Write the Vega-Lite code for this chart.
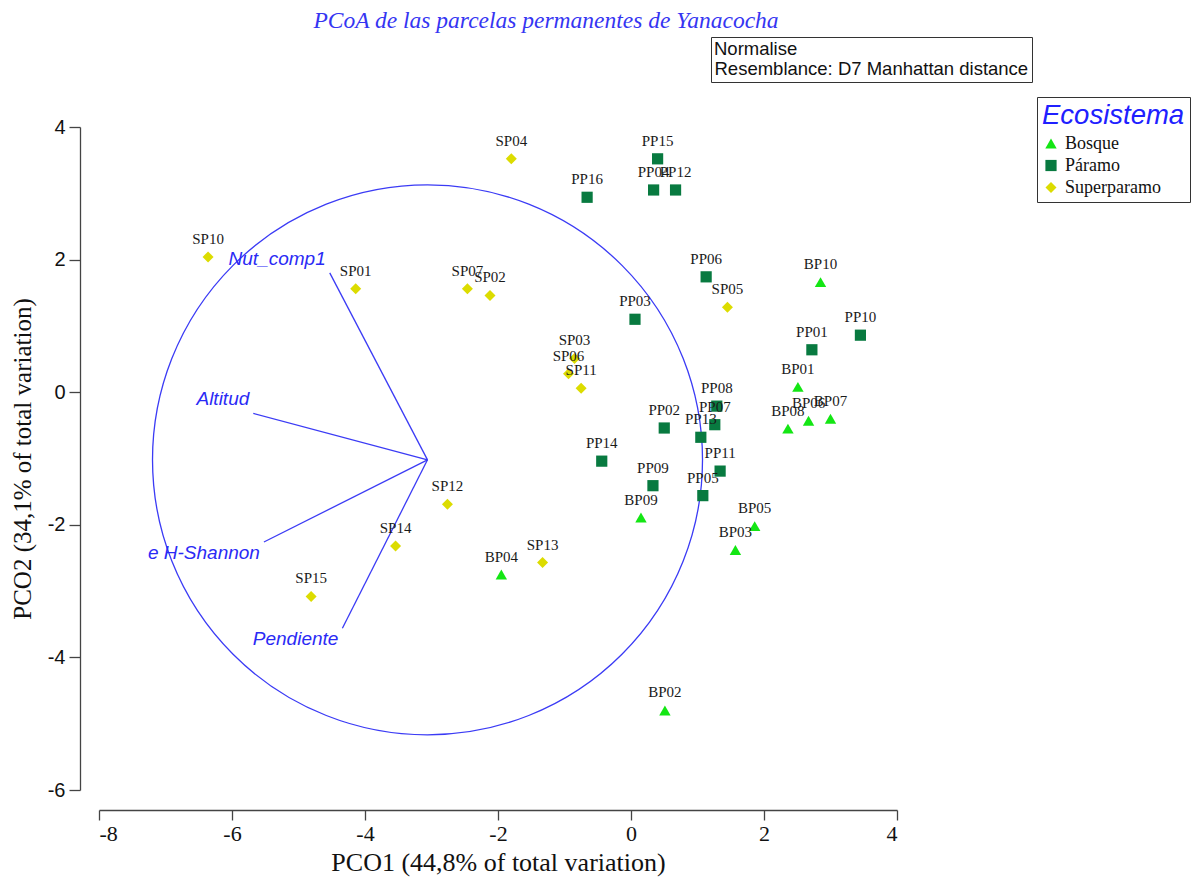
{
  "$schema": "https://vega.github.io/schema/vega-lite/v6.json",
  "width": 798,
  "height": 663,
  "autosize": {"type": "none"},
  "padding": {"left": 99, "top": 127, "right": 302, "bottom": 89},
  "background": "white",
  "title": {
    "text": "PCoA de las parcelas permanentes de Yanacocha",
    "font": "Liberation Serif",
    "fontStyle": "italic",
    "fontWeight": "normal",
    "fontSize": 23.5,
    "color": "#3535f2",
    "anchor": "middle",
    "frame": "group",
    "offset": 4,
    "dx": 48
  },
  "config": {
    "view": {"stroke": null},
    "axis": {"grid": false}
  },
  "datasets": {
    "parcelas": [
      {"id": "BP01", "eco": "Bosque", "x": 2.51, "y": 0.08},
      {"id": "BP02", "eco": "Bosque", "x": 0.51, "y": -4.8},
      {"id": "BP03", "eco": "Bosque", "x": 1.57, "y": -2.38},
      {"id": "BP04", "eco": "Bosque", "x": -1.95, "y": -2.75},
      {"id": "BP05", "eco": "Bosque", "x": 1.86, "y": -2.02},
      {"id": "BP06", "eco": "Bosque", "x": 2.67, "y": -0.43},
      {"id": "BP07", "eco": "Bosque", "x": 3.0, "y": -0.4},
      {"id": "BP08", "eco": "Bosque", "x": 2.36, "y": -0.55},
      {"id": "BP09", "eco": "Bosque", "x": 0.15, "y": -1.89},
      {"id": "BP10", "eco": "Bosque", "x": 2.85, "y": 1.66},
      {"id": "PP01", "eco": "Páramo", "x": 2.72, "y": 0.64},
      {"id": "PP02", "eco": "Páramo", "x": 0.5, "y": -0.54},
      {"id": "PP03", "eco": "Páramo", "x": 0.06, "y": 1.1},
      {"id": "PP04", "eco": "Páramo", "x": 0.34, "y": 3.05},
      {"id": "PP05", "eco": "Páramo", "x": 1.08, "y": -1.56},
      {"id": "PP06", "eco": "Páramo", "x": 1.13, "y": 1.74},
      {"id": "PP07", "eco": "Páramo", "x": 1.26, "y": -0.49},
      {"id": "PP08", "eco": "Páramo", "x": 1.29, "y": -0.21},
      {"id": "PP09", "eco": "Páramo", "x": 0.33, "y": -1.41},
      {"id": "PP10", "eco": "Páramo", "x": 3.45, "y": 0.86},
      {"id": "PP11", "eco": "Páramo", "x": 1.34, "y": -1.19},
      {"id": "PP12", "eco": "Páramo", "x": 0.67, "y": 3.05},
      {"id": "PP13", "eco": "Páramo", "x": 1.05, "y": -0.68},
      {"id": "PP14", "eco": "Páramo", "x": -0.44, "y": -1.04},
      {"id": "PP15", "eco": "Páramo", "x": 0.4, "y": 3.52},
      {"id": "PP16", "eco": "Páramo", "x": -0.66, "y": 2.94},
      {"id": "SP01", "eco": "Superparamo", "x": -4.14, "y": 1.56},
      {"id": "SP02", "eco": "Superparamo", "x": -2.12, "y": 1.46},
      {"id": "SP03", "eco": "Superparamo", "x": -0.85, "y": 0.51},
      {"id": "SP04", "eco": "Superparamo", "x": -1.8, "y": 3.52},
      {"id": "SP05", "eco": "Superparamo", "x": 1.45, "y": 1.28},
      {"id": "SP06", "eco": "Superparamo", "x": -0.94, "y": 0.28},
      {"id": "SP07", "eco": "Superparamo", "x": -2.46, "y": 1.56},
      {"id": "SP10", "eco": "Superparamo", "x": -6.36, "y": 2.04},
      {"id": "SP11", "eco": "Superparamo", "x": -0.75, "y": 0.06},
      {"id": "SP12", "eco": "Superparamo", "x": -2.76, "y": -1.69},
      {"id": "SP13", "eco": "Superparamo", "x": -1.33, "y": -2.57},
      {"id": "SP14", "eco": "Superparamo", "x": -3.54, "y": -2.32},
      {"id": "SP15", "eco": "Superparamo", "x": -4.81, "y": -3.08}
    ],
    "vectores": [
      {"variable": "Nut_comp1", "x0": -3.06, "y0": -1.02, "x1": -4.53, "y1": 1.8},
      {"variable": "Altitud", "x0": -3.06, "y0": -1.02, "x1": -5.68, "y1": -0.32},
      {"variable": "e H-Shannon", "x0": -3.06, "y0": -1.02, "x1": -5.52, "y1": -2.26},
      {"variable": "Pendiente", "x0": -3.06, "y0": -1.02, "x1": -4.34, "y1": -3.56}
    ],
    "circulo": [{"x": -3.06, "y": -1.02}],
    "nota": [{"x": -3.06, "y": -1.02, "nota": "Resemblance: D7 Manhattan distance"}]
  },
  "layer": [
    {
      "data": {"name": "circulo"},
      "mark": {"type": "point", "shape": "circle", "filled": false, "stroke": "#3b3bf5", "strokeWidth": 1.3, "size": 302500, "opacity": 1},
      "encoding": {
        "x": {
          "field": "x", "type": "quantitative",
          "scale": {"domain": [-8, 4], "nice": false, "zero": false},
          "axis": {
            "title": "PCO1 (44,8% of total variation)",
            "values": [-8, -6, -4, -2, 0, 2, 4],
            "labelExpr": "datum.value < 0 ? '-' + abs(datum.value) : '' + datum.value",
            "offset": 20,
            "domainColor": "#444", "tickColor": "#444", "tickSize": 10, "domainWidth": 1.3, "tickWidth": 1.3,
            "labelFont": "Liberation Serif", "labelFontSize": 22, "labelColor": "#111", "labelPadding": 3,
            "titleFont": "Liberation Serif", "titleFontSize": 26, "titleFontWeight": "normal", "titleColor": "#111", "titlePadding": 5
          }
        },
        "y": {
          "field": "y", "type": "quantitative",
          "scale": {"domain": [-6, 4], "nice": false, "zero": false},
          "axis": {
            "title": "PCO2 (34,1% of total variation)",
            "values": [-6, -4, -2, 0, 2, 4],
            "labelExpr": "datum.value < 0 ? '-' + abs(datum.value) : '' + datum.value",
            "offset": 19,
            "domainColor": "#444", "tickColor": "#444", "tickSize": 11, "domainWidth": 1.3, "tickWidth": 1.3,
            "labelFont": "Liberation Sans", "labelFontSize": 20, "labelColor": "#111", "labelPadding": 4,
            "titleFont": "Liberation Serif", "titleFontSize": 25, "titleFontWeight": "normal", "titleColor": "#111", "titlePadding": 12
          }
        }
      }
    },
    {
      "data": {"name": "vectores"},
      "mark": {"type": "rule", "color": "#3b3bf5", "strokeWidth": 1.3},
      "encoding": {
        "x": {"field": "x0", "type": "quantitative"},
        "y": {"field": "y0", "type": "quantitative"},
        "x2": {"field": "x1"},
        "y2": {"field": "y1"}
      }
    },
    {
      "data": {"name": "vectores"},
      "transform": [{"filter": "datum.y1 > datum.y0"}],
      "mark": {"type": "text", "align": "right", "baseline": "middle", "dx": -4, "dy": -14, "font": "Liberation Sans", "fontStyle": "italic", "fontSize": 19, "color": "#2a2af5"},
      "encoding": {
        "x": {"field": "x1", "type": "quantitative"},
        "y": {"field": "y1", "type": "quantitative"},
        "text": {"field": "variable"}
      }
    },
    {
      "data": {"name": "vectores"},
      "transform": [{"filter": "datum.y1 < datum.y0"}],
      "mark": {"type": "text", "align": "right", "baseline": "middle", "dx": -4, "dy": 11, "font": "Liberation Sans", "fontStyle": "italic", "fontSize": 19, "color": "#2a2af5"},
      "encoding": {
        "x": {"field": "x1", "type": "quantitative"},
        "y": {"field": "y1", "type": "quantitative"},
        "text": {"field": "variable"}
      }
    },
    {
      "data": {"name": "parcelas"},
      "mark": {"type": "point", "filled": true, "opacity": 1},
      "encoding": {
        "x": {"field": "x", "type": "quantitative"},
        "y": {"field": "y", "type": "quantitative"},
        "color": {
          "field": "eco", "type": "nominal",
          "scale": {"domain": ["Bosque", "Páramo", "Superparamo"], "range": ["#14e614", "#087a40", "#dcdc00"]},
          "legend": {
            "orient": "none", "legendX": 938, "legendY": -30,
            "title": "Ecosistema",
            "titleFont": "Liberation Sans", "titleFontStyle": "italic", "titleFontWeight": "normal", "titleFontSize": 27.5, "titleColor": "#2020ff", "titlePadding": 5,
            "labelFont": "Liberation Serif", "labelFontSize": 18, "labelColor": "#111", "labelOffset": 5,
            "symbolSize": 160, "rowPadding": 4,
            "strokeColor": "#333", "fillColor": "white", "padding": 5
          }
        },
        "shape": {
          "field": "eco", "type": "nominal",
          "scale": {"domain": ["Bosque", "Páramo", "Superparamo"], "range": ["triangle-up", "square", "diamond"]}
        },
        "size": {
          "field": "eco", "type": "nominal",
          "scale": {"domain": ["Bosque", "Páramo", "Superparamo"], "range": [130, 121, 160]},
          "legend": null
        }
      }
    },
    {
      "data": {"name": "parcelas"},
      "mark": {"type": "text", "align": "center", "baseline": "middle", "dy": -18, "font": "Liberation Serif", "fontSize": 15, "color": "#1a1a1a"},
      "encoding": {
        "x": {"field": "x", "type": "quantitative"},
        "y": {"field": "y", "type": "quantitative"},
        "text": {"field": "id"}
      }
    },
    {
      "data": {"name": "nota"},
      "mark": {"type": "point", "opacity": 0},
      "encoding": {
        "x": {"field": "x", "type": "quantitative"},
        "y": {"field": "y", "type": "quantitative"},
        "fill": {
          "field": "nota", "type": "nominal",
          "scale": {"range": ["white"]},
          "legend": {
            "orient": "none", "legendX": 612, "legendY": -90,
            "title": "Normalise",
            "titleFont": "Liberation Sans", "titleFontWeight": "normal", "titleFontSize": 18.5, "titleColor": "#111", "titlePadding": 1,
            "labelFont": "Liberation Sans", "labelFontSize": 18.5, "labelColor": "#111", "labelOffset": -18, "labelLimit": 500,
            "symbolSize": 0, "symbolStrokeWidth": 0, "symbolOpacity": 0, "rowPadding": 0,
            "strokeColor": "#333", "fillColor": "white", "padding": 3
          }
        }
      }
    }
  ]
}
